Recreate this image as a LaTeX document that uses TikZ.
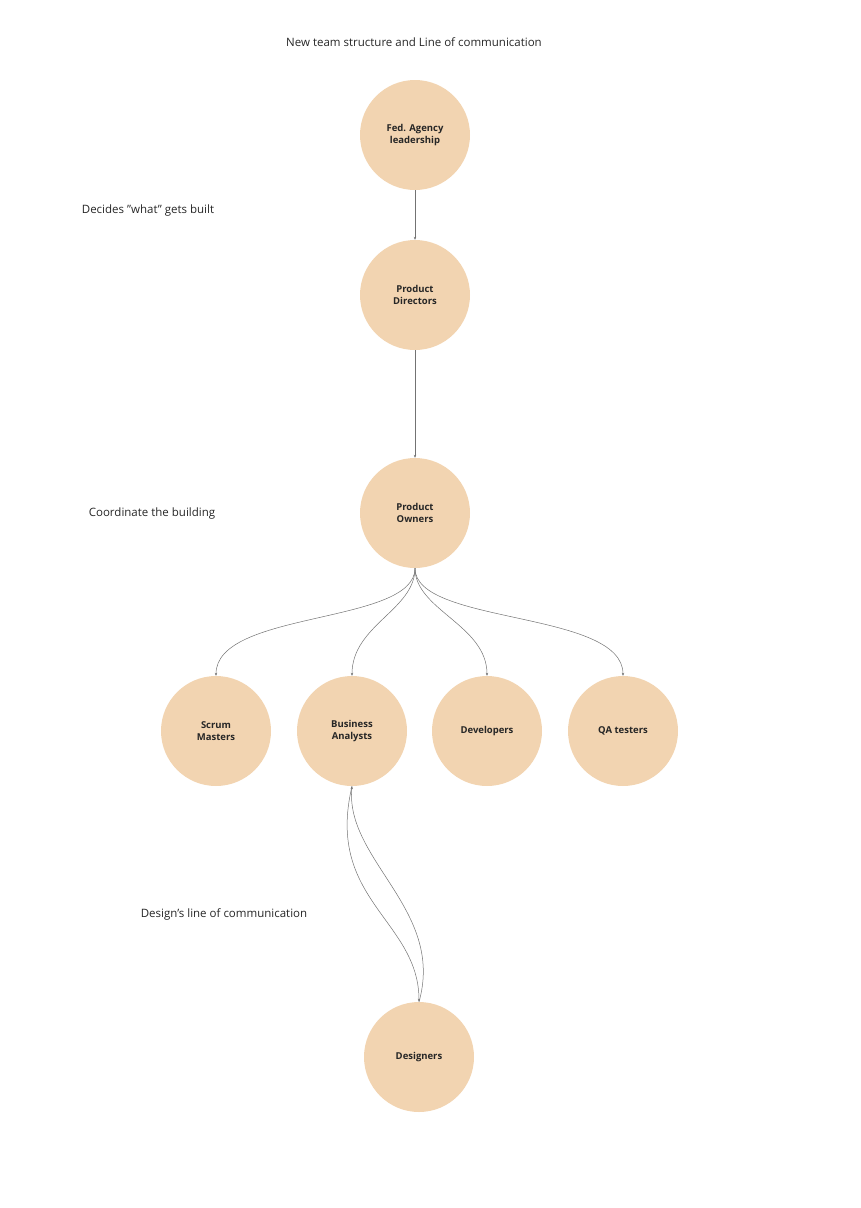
\documentclass[tikz,border=0pt]{standalone}
\usepackage{fontspec}
\setmainfont{Open Sans}
\usetikzlibrary{arrows.meta}
\begin{document}
\begin{tikzpicture}[x=1pt,y=-1pt,
  role/.style={circle,fill=circfill,minimum size=110pt,inner sep=0pt,align=center,font=\bfseries\fontsize{9.5}{12.5}\selectfont,text=black!85},
  lbl/.style={font=\fontsize{11.5}{14}\selectfont,text=black!85},
  conn/.style={draw=black!55,line width=0.5pt,-{Stealth[length=3pt,width=2.5pt]}}]
\definecolor{circfill}{HTML}{F2D4B1}
\useasboundingbox (0,0) rectangle (860,1208);
\node[lbl] (title) at (414,42) {New team structure and Line of communication};
\node[role] (fed) at (415,135) {Fed. Agency\\leadership};
\node[role] (pd) at (415,295) {Product\\Directors};
\node[role] (po) at (415,513) {Product\\Owners};
\node[role] (sm) at (216,731) {Scrum\\Masters};
\node[role] (ba) at (352,731) {Business\\Analysts};
\node[role] (dev) at (487,731) {Developers};
\node[role] (qa) at (623,731) {QA testers};
\node[role] (des) at (419,1057) {Designers};
\node[lbl] (l1) at (148,211) {Decides "what" gets built};
\node[lbl] (l2) at (152,514) {Coordinate the building};
\node[lbl] (l3) at (224,914) {Design's line of communication};
\draw[conn] (fed.south) -- (pd.north);
\draw[conn] (pd.south) -- (po.north);
\draw[conn] (po.south) .. controls (415,625) and (216,610) .. (sm.north);
\draw[conn] (po.south) .. controls (415,610) and (352,625) .. (ba.north);
\draw[conn] (po.south) .. controls (415,610) and (487,625) .. (dev.north);
\draw[conn] (po.south) .. controls (415,625) and (623,610) .. (qa.north);
\draw[conn] (ba.south) .. controls (325,900) and (419,920) .. (des.north);
\draw[conn] (des.north) .. controls (445,910) and (345,860) .. (ba.south);
\end{tikzpicture}
\end{document}
